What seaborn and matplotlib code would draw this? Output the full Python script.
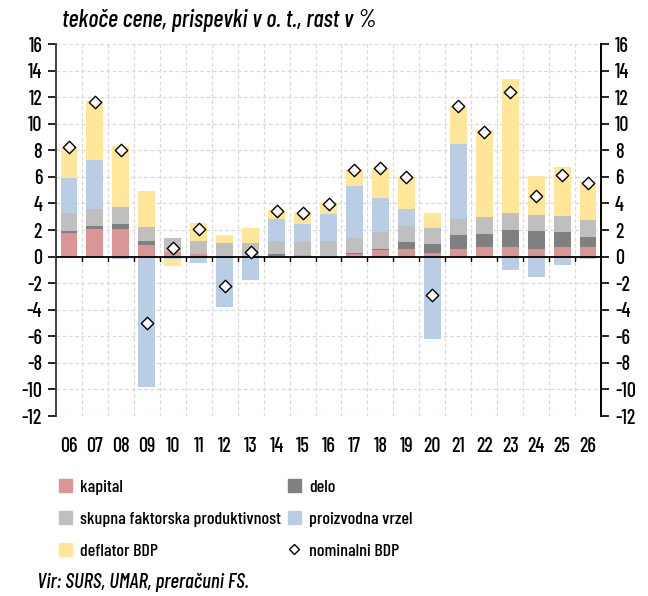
import numpy as np
import matplotlib
matplotlib.use("Agg")
import matplotlib.pyplot as plt
import matplotlib.patches as mpatches
from matplotlib.lines import Line2D
import seaborn as sns

# Data (contributions to nominal GDP growth, percentage points)
years = ['06', '07', '08', '09', '10', '11', '12', '13', '14', '15', '16',
         '17', '18', '19', '20', '21', '22', '23', '24', '25', '26']
kapital = [1.8, 2.05, 2.05, 0.85, 0.38, 0.2, 0.0, 0.0, 0.05, 0.1, 0.0,
           0.2, 0.5, 0.55, 0.3, 0.6, 0.7, 0.75, 0.6, 0.7, 0.75]
delo = [0.15, 0.25, 0.4, 0.3, -0.05, -0.1, -0.1, -0.1, 0.15, 0.0, -0.1,
        0.05, 0.1, 0.55, 0.65, 1.0, 1.0, 1.25, 1.3, 1.15, 0.75]
tfp = [1.35, 1.3, 1.3, 1.1, 1.02, 0.95, 1.0, 1.0, 1.0, 1.03, 1.2,
       1.18, 1.25, 1.23, 1.2, 1.25, 1.25, 1.25, 1.2, 1.2, 1.25]
vrzel = [2.65, 3.7, -0.2, -9.8, -0.13, -0.35, -3.7, -1.65, 1.63, 1.3, 2.03,
         3.9, 2.55, 1.22, -6.2, 5.6, -0.1, -1.0, -1.55, -0.6, -0.15]
deflator = [2.25, 4.4, 4.6, 2.65, -0.52, 1.4, 0.6, 1.18, 0.65, 0.9, 0.87,
            1.28, 2.3, 2.35, 1.15, 2.8, 6.6, 10.15, 3.0, 3.7, 2.95]
nominal = [8.27, 11.63, 8.02, -5.0, 0.68, 2.1, -2.23, 0.35, 3.43, 3.3, 3.96,
           6.54, 6.69, 5.96, -2.88, 11.33, 9.37, 12.36, 4.54, 6.14, 5.56]

series = [('kapital', kapital, '#D99694'),
          ('delo', delo, '#808080'),
          ('skupna faktorska produktivnost', tfp, '#BFBFBF'),
          ('proizvodna vrzel', vrzel, '#B9CDE5'),
          ('deflator BDP', deflator, '#FFE699')]

sns.set_style('white')
plt.rcParams['font.family'] = ['Barlow Condensed', 'DejaVu Sans']
plt.rcParams['font.weight'] = 500
plt.rcParams['text.color'] = 'black'
plt.rcParams['xtick.color'] = 'black'
plt.rcParams['ytick.color'] = 'black'

fig = plt.figure(figsize=(6.48, 5.96), dpi=100)
ax = fig.add_axes([56 / 648, 1 - 416 / 596, 545 / 648, 372 / 596])

x = np.arange(len(years))
pos_base = np.zeros(len(years))
neg_base = np.zeros(len(years))
for name, vals, col in series:
    v = np.array(vals)
    bottom = np.where(v >= 0, pos_base, neg_base)
    ax.bar(x, v, width=0.65, bottom=bottom, color=col, edgecolor='none', zorder=2)
    pos_base = pos_base + np.where(v >= 0, v, 0)
    neg_base = neg_base + np.where(v < 0, v, 0)

sns.scatterplot(x=x, y=nominal, marker='D', s=40, color='white',
                edgecolor='black', linewidth=1.0, zorder=4, ax=ax, legend=False)

ax.set_xlim(-0.5, len(years) - 0.5)
ax.set_ylim(-12, 16)
ax.set_yticks(np.arange(-12, 17, 2))
ax.set_yticklabels([str(v) for v in range(-12, 17, 2)], fontsize=14.5)

# grid
for yv in range(-12, 17, 2):
    ax.axhline(yv, color='#d9d9d9', lw=0.9, ls=(0, (3, 2)), zorder=0)
for xv in np.arange(0.5, len(years) - 0.5, 1):
    ax.axvline(xv, color='#d9d9d9', lw=0.9, ls=(0, (3, 2)), zorder=0)

# zero line with tick marks at category boundaries
ax.axhline(0, color='black', lw=1.3, zorder=3)
for xv in np.arange(0.5, len(years) - 0.5, 1):
    ax.plot([xv, xv], [0, -0.35], color='black', lw=1.0, zorder=3)

ax.set_xticks(x)
ax.set_xticklabels(years, fontsize=14.5)
ax.tick_params(axis='x', length=0, pad=15)
ax.tick_params(axis='y', which='both', left=True, right=True, labelleft=True,
               labelright=True, length=6, width=1.2, direction='out', pad=4)

for s in ['top', 'bottom']:
    ax.spines[s].set_visible(False)
ax.spines['left'].set_color('#404040')
ax.spines['left'].set_linewidth(1.4)
ax.spines['right'].set_color('black')
ax.spines['right'].set_linewidth(1.4)

fig.text(62 / 648, 1 - 20 / 596, 'tekoče cene, prispevki v o. t., rast v %',
         fontsize=17.5, style='italic', va='center', ha='left')

handles = [mpatches.Patch(color=c, label=n) for n, _, c in series]
order = [handles[0], handles[2], handles[4], handles[1], handles[3]]
diamond = Line2D([], [], marker='D', color='none', markerfacecolor='white',
                 markeredgecolor='black', markersize=5, label='nominalni BDP')
order.append(diamond)
fig.legend(handles=order, ncol=2, loc='upper left',
           bbox_to_anchor=(52 / 648, 1 - 472 / 596), frameon=False,
           fontsize=13, handlelength=0.7, handleheight=0.7, handletextpad=0.45,
           columnspacing=0.4, labelspacing=0.9, borderaxespad=0)

fig.text(37 / 648, 1 - 583 / 596, 'Vir: SURS, UMAR, preračuni FS.',
         fontsize=15, style='italic', va='center', ha='left')

fig.savefig('out.png', dpi=100)
